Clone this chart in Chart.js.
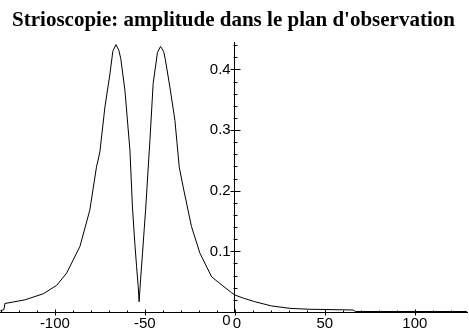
<!DOCTYPE html>
<html><head><meta charset="utf-8">
<script src="https://cdn.jsdelivr.net/npm/chart.js@4.4.1/dist/chart.umd.min.js"></script>
<style>html,body{margin:0;padding:0;background:#fff;}canvas{display:block;}</style>
</head><body>
<canvas id="c" width="469" height="335"></canvas>
<script>
const titleText = "Strioscopie: amplitude dans le plan d'observation";
const xValues = [-130.3,-128.3,-127.8,-116.7,-106.5,-99,-93.5,-86.1,-80.6,-76.9,-75,-72.2,-69.4,-67.8,-66.1,-64.5,-63.4,-61.1,-58.3,-56.9,-55.6,-54.6,-53.7,-53.2,-52.4,-51.3,-50.4,-49.6,-47.2,-45.4,-43.0,-41.3,-39.6,-38.6,-36.1,-33.3,-30.9,-28.7,-24.1,-19.4,-12.9,-8.3,-1.9,0,4.6,11.1,20.4,30.6,41.7,65.7,67,128.9];
const yValues = [0.002,0.004,0.014,0.020,0.030,0.044,0.064,0.108,0.168,0.239,0.264,0.338,0.393,0.430,0.441,0.432,0.418,0.366,0.267,0.173,0.114,0.075,0.042,0.017,0.053,0.097,0.135,0.168,0.283,0.377,0.428,0.438,0.430,0.416,0.371,0.316,0.239,0.206,0.141,0.097,0.058,0.047,0.032,0.028,0.023,0.017,0.010,0.006,0.0045,0.0033,0.0008,0.0008];
const xTickValues = [-100,-50,0,50,100];
const xTickLabels = ['-100','-50',' 0','50','100'];
const yTickValues = [0,0.1,0.2,0.3,0.4];
const yTickLabels = [['','0 '],'0.1 ','0.2 ','0.3 ','0.4 '];
const xMinorStep = 10;
const yMinorStep = 0.02;

const points = xValues.map((x,i)=>({x:x,y:yValues[i]}));

const tickMarks = {
  id:'tickMarks',
  afterDraw(chart){
    const {ctx, scales:{x,y}} = chart;
    const x0 = Math.round(x.getPixelForValue(0)) + 0.5;
    const y0 = Math.round(y.getPixelForValue(0)) + 0.5;
    ctx.save();
    ctx.strokeStyle = '#000';
    ctx.lineWidth = 1;
    ctx.beginPath();
    for (let v = Math.ceil(x.min/xMinorStep)*xMinorStep; v <= x.max; v += xMinorStep) {
      const px = Math.round(x.getPixelForValue(v)) + 0.5;
      const major = xTickValues.includes(v);
      ctx.moveTo(px, y0 - (major ? 3 : 2));
      ctx.lineTo(px, y0 + (major ? 3 : 0));
    }
    for (let k = 1; k * yMinorStep <= y.max; k++) {
      const v = k * yMinorStep;
      const py = Math.round(y.getPixelForValue(v)) + 0.5;
      const major = (k % 5) === 0;
      const h = major ? 5 : 2;
      ctx.moveTo(x0 - h, py);
      ctx.lineTo(x0 + h, py);
    }
    ctx.stroke();
    ctx.restore();
  }
};

new Chart(document.getElementById('c'), {
  type: 'line',
  data: { datasets: [{ data: points, borderColor:'#000', borderWidth:1, pointRadius:0, tension:0, fill:false }] },
  options: {
    responsive:false, animation:false, devicePixelRatio:1,
    layout:{ padding:{ left:0, right:2, top:0, bottom:0 } },
    plugins:{
      legend:{display:false}, tooltip:{enabled:false},
      title:{ display:true, text:titleText, color:'#000',
        font:{ family:'"Liberation Serif", "Times New Roman", serif', size:21, weight:'bold', lineHeight:1.2 },
        padding:{ top:8, bottom:9 } }
    },
    scales:{
      x:{ type:'linear', min:-130.5, max:129,
        grid:{ display:false, drawTicks:false },
        border:{ display:true, color:'#000', width:1 },
        afterBuildTicks(s){ s.ticks = xTickValues.map(v=>({value:v})); },
        afterFit(s){ s.height = 23; s.paddingLeft = 0; s.paddingRight = 0; },
        ticks:{ color:'#000', padding:3, maxRotation:0, autoSkip:false,
          font:{ family:'"Liberation Sans", Arial, sans-serif', size:15 },
          callback:(v,i)=>xTickLabels[i] }
      },
      y:{ type:'linear', min:0, max:0.445, position:{x:0},
        grid:{ display:false, drawTicks:false },
        border:{ display:true, color:'#000', width:1 },
        afterBuildTicks(s){ s.ticks = yTickValues.map(v=>({value:v})); },
        afterFit(s){ s.paddingTop = 0; s.paddingBottom = 0; },
        ticks:{ color:'#000', padding:0, autoSkip:false,
          font:{ family:'"Liberation Sans", Arial, sans-serif', size:15 },
          callback:(v,i)=>yTickLabels[i] }
      }
    }
  },
  plugins:[tickMarks]
});
</script>
</body></html>
